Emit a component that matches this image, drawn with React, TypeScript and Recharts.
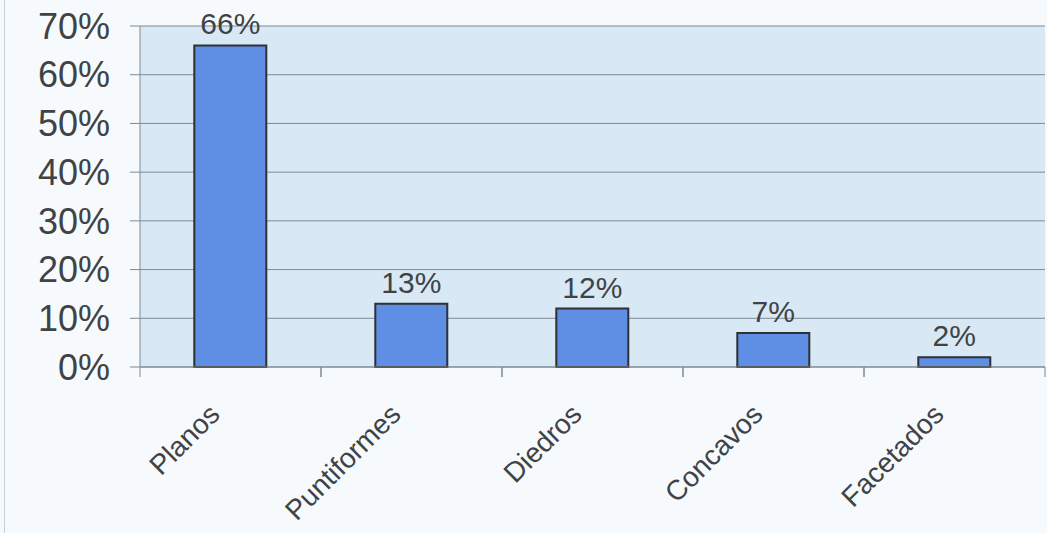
import React from 'react';
import { BarChart, Bar, XAxis, YAxis, CartesianGrid, LabelList } from 'recharts';

const categories = ['Planos', 'Puntiformes', 'Diedros', 'Concavos', 'Facetados'];
const shares = [0.66, 0.13, 0.12, 0.07, 0.02];
const yTicks = [0, 0.1, 0.2, 0.3, 0.4, 0.5, 0.6, 0.7];

const data = categories.map((name, i) => ({ name, value: shares[i] }));

const W = 1047;
const H = 533;
const LEFT = 140;
const RIGHT = 2;
const BAND = (W - LEFT - RIGHT) / categories.length;
const FONT = '"Liberation Sans", Arial, sans-serif';
const TEXT = '#404346';
const GRID = '#7f8a94';

const pct = (v: number) => `${Math.round(v * 100)}%`;

const CategoryTick = (props: any) => {
  const { x, y, payload } = props;
  const tx = x - 9;
  const ty = y + 49;
  return (
    <g>
      <line x1={x - BAND / 2} x2={x - BAND / 2} y1={y} y2={y + 10} stroke={GRID} strokeWidth={1} />
      <line x1={x + BAND / 2} x2={x + BAND / 2} y1={y} y2={y + 10} stroke={GRID} strokeWidth={1} />
      <text
        x={tx}
        y={ty}
        textAnchor="end"
        transform={`rotate(-45, ${tx}, ${ty})`}
        fontSize={28}
        fontFamily={FONT}
        fill={TEXT}
      >
        {payload.value}
      </text>
    </g>
  );
};

export default function App() {
  return (
    <div style={{ position: 'absolute', left: 0, top: 0, width: W, height: H, background: '#f6fafd' }}>
      <div style={{ position: 'absolute', left: 4, top: 0, width: 1, height: H, background: '#c9d1d8' }} />
      <BarChart
        width={W}
        height={H}
        data={data}
        margin={{ top: 26, right: RIGHT, left: 0, bottom: 0 }}
        barCategoryGap="30%"
      >
        <CartesianGrid vertical={false} stroke={GRID} strokeWidth={1} fill="#d9e8f5" fillOpacity={1} />
        <XAxis
          dataKey="name"
          interval={0}
          height={166}
          tickSize={0}
          tickMargin={0}
          tickLine={false}
          axisLine={{ stroke: GRID, strokeWidth: 1 }}
          tick={<CategoryTick />}
        />
        <YAxis
          domain={[0, 0.7]}
          ticks={yTicks}
          width={LEFT}
          tickFormatter={pct}
          tickSize={10}
          tickMargin={20}
          tickLine={{ stroke: GRID }}
          axisLine={{ stroke: GRID }}
          tick={{ fontSize: 36, fontFamily: FONT, fill: TEXT }}
        />
        <Bar dataKey="value" fill="#5e8fe4" stroke="#2e3033" strokeWidth={2} isAnimationActive={false}>
          <LabelList
            dataKey="value"
            position="top"
            offset={11}
            formatter={(v: any) => pct(Number(v))}
            style={{ fontSize: 30, fontFamily: FONT, fill: TEXT }}
          />
        </Bar>
      </BarChart>
    </div>
  );
}
